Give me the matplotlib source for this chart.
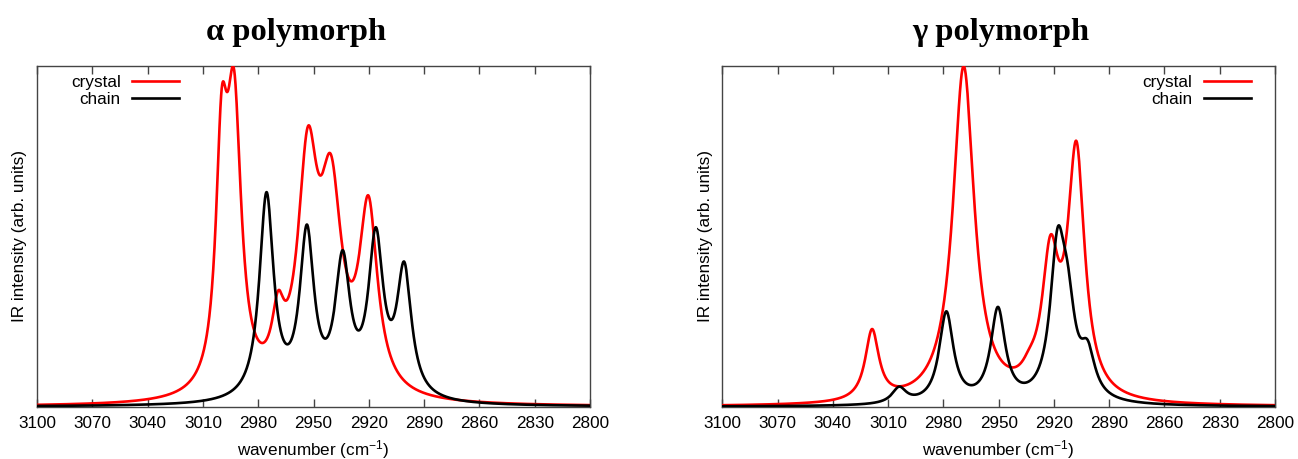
import numpy as np
import matplotlib
matplotlib.use("Agg")
import matplotlib.pyplot as plt

plt.rcParams['font.family'] = ['Liberation Sans', 'DejaVu Sans']
plt.rcParams['mathtext.fontset'] = 'custom'
plt.rcParams['mathtext.rm'] = 'Liberation Sans'
plt.rcParams['mathtext.it'] = 'Liberation Sans:italic'

# ---- data (peak positions in cm^-1, apparent heights, HWHM) ----
alpha_crystal_pos = [2999.8, 2993.1, 2969.2, 2953.1, 2940.5, 2920.2]
alpha_crystal_hgt = [0.943, 1.000, 0.344, 0.830, 0.747, 0.626]
alpha_crystal_wid = [3.8, 4.8, 4.0, 6.5, 7.0, 6.0]
alpha_chain_pos = [2975.5, 2953.6, 2934.2, 2916.2, 2900.8]
alpha_chain_hgt = [0.636, 0.540, 0.464, 0.532, 0.430]
alpha_chain_wid = [4.7, 4.7, 4.9, 4.9, 4.8]

gamma_crystal_pos = [3018.7, 2969.0, 2933.3, 2921.9, 2912.5, 2907.8]
gamma_crystal_hgt = [0.228, 1.000, 0.172, 0.504, 0.540, 0.780]
gamma_crystal_wid = [4.5, 7.0, 5.0, 5.5, 5.0, 5.5]
gamma_chain_pos = [3004.0, 2978.4, 2950.4, 2918.0, 2912.5, 2901.7]
gamma_chain_hgt = [0.059, 0.280, 0.293, 0.526, 0.420, 0.196]
gamma_chain_wid = [4.7, 4.7, 4.8, 4.9, 4.8, 4.8]

xticks = [3100, 3070, 3040, 3010, 2980, 2950, 2920, 2890, 2860, 2830, 2800]
titles = ["α polymorph", "γ polymorph"]
labels = ["crystal", "chain"]


def lor(x, x0, g):
    return g * g / ((x - x0) ** 2 + g * g)


def spectrum(x, pos, hgt, wid):
    pos = np.asarray(pos, float)
    hgt = np.asarray(hgt, float)
    wid = np.asarray(wid, float)
    G = lor(pos[:, None], pos[None, :], wid[None, :])
    amp = np.linalg.solve(G, hgt)
    return (amp[None, :] * lor(x[:, None], pos[None, :], wid[None, :])).sum(axis=1)


x = np.linspace(2800, 3100, 3001)

W, H = 1298, 459
fig = plt.figure(figsize=(W / 100, H / 100), dpi=100)

ax_boxes = [(37, 66, 590, 406.7), (722.3, 66, 1275, 406.7)]
title_x = [296, 1000.5]
panels = [
    (alpha_crystal_pos, alpha_crystal_hgt, alpha_crystal_wid,
     alpha_chain_pos, alpha_chain_hgt, alpha_chain_wid),
    (gamma_crystal_pos, gamma_crystal_hgt, gamma_crystal_wid,
     gamma_chain_pos, gamma_chain_hgt, gamma_chain_wid),
]

fs = 12.3
for i, (box, (cp, ch, cw, np_, nh, nw)) in enumerate(zip(ax_boxes, panels)):
    l, t, r, b = box
    ax = fig.add_axes([l / W, 1 - b / H, (r - l) / W, (b - t) / H])
    yc = spectrum(x, cp, ch, cw)
    yn = spectrum(x, np_, nh, nw)
    ax.plot(x, yc, color='#ff0000', lw=1.9, label=labels[0], zorder=3)
    ax.plot(x, yn, color='black', lw=1.9, label=labels[1], zorder=4)
    ax.set_xlim(3100, 2800)
    ax.set_ylim(0, yc.max())
    ax.set_xticks(xticks)
    ax.set_xticklabels([str(v) for v in xticks])
    ax.set_yticks([])
    ax.tick_params(axis='x', direction='in', top=True, bottom=True, length=5.5,
                   width=1, color='#444444', labelsize=fs, pad=7)
    for s in ax.spines.values():
        s.set_color('#444444')
        s.set_linewidth(1.0)
    ax.set_xlabel('wavenumber (cm$^{-1}$)', fontsize=fs, labelpad=5)
    ax.set_ylabel('IR intensity (arb. units)', fontsize=fs, labelpad=7)
    common = dict(frameon=False, markerfirst=False, fontsize=fs, handlelength=2.75,
                  handletextpad=0.65, labelspacing=0.16, borderpad=0.2, borderaxespad=0)
    if i == 0:
        ax.legend(loc='upper left', bbox_to_anchor=(0.055, 0.985), **common)
    else:
        ax.legend(loc='upper right', bbox_to_anchor=(0.962, 0.985), **common)
    fig.text(title_x[i] / W, 1 - 40 / H, titles[i], ha='center', va='baseline',
             fontsize=23.4, fontweight='bold', family=['Liberation Serif', 'DejaVu Serif'])

fig.savefig('out.png', dpi=100)
